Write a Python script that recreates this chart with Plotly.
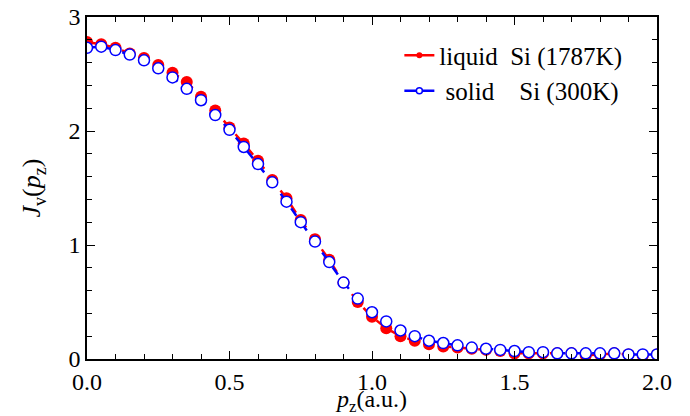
import plotly.graph_objects as go

pz = [round(i * 0.05, 2) for i in range(41)]

liquid = [2.78, 2.76, 2.73, 2.68, 2.64, 2.58, 2.51, 2.43, 2.30, 2.18,
          2.03, 1.89, 1.74, 1.57, 1.41, 1.22, 1.05, 0.87, 0.67, 0.50,
          0.37, 0.27, 0.20, 0.16, 0.13, 0.11, 0.10, 0.09, 0.08, 0.07,
          0.05, 0.05, 0.05, 0.05, 0.05, 0.03, 0.04, 0.05, 0.04, 0.03, 0.04]

solid = [2.73, 2.74, 2.71, 2.67, 2.62, 2.55, 2.47, 2.37, 2.27, 2.14,
         2.01, 1.86, 1.71, 1.55, 1.38, 1.20, 1.03, 0.85, 0.67, 0.53,
         0.41, 0.33, 0.25, 0.20, 0.16, 0.14, 0.12, 0.10, 0.09, 0.08,
         0.07, 0.06, 0.06, 0.05, 0.05, 0.05, 0.05, 0.05, 0.04, 0.04, 0.04]

names = ["liquid\u00a0\u00a0Si (1787K)", "\u00a0solid\u00a0\u00a0\u00a0\u00a0Si (300K)"]

FONT = "Liberation Serif"

fig = go.Figure()
fig.add_trace(go.Scatter(
    x=pz, y=liquid, mode="lines+markers", showlegend=False,
    line=dict(color="red", width=2.5, dash="dash"),
    marker=dict(symbol="circle", size=12, color="red", line=dict(width=0)),
))
fig.add_trace(go.Scatter(
    x=pz, y=solid, mode="lines+markers", showlegend=False,
    line=dict(color="blue", width=2.5, dash="dash"),
    marker=dict(symbol="circle", size=11, color="white", line=dict(color="blue", width=1.5)),
))
# legend entries (small markers as in the reference legend)
fig.add_trace(go.Scatter(
    x=[None], y=[None], mode="lines+markers", name=names[0],
    line=dict(color="red", width=2.5),
    marker=dict(symbol="circle", size=6, color="red"),
))
fig.add_trace(go.Scatter(
    x=[None], y=[None], mode="lines+markers", name=names[1],
    line=dict(color="blue", width=2.5),
    marker=dict(symbol="circle", size=6, color="white", line=dict(color="blue", width=1.5)),
))

axis_common = dict(
    showgrid=False, zeroline=False, showline=True, linecolor="black", linewidth=1.5,
    mirror="ticks", ticks="inside", ticklen=8, tickwidth=1.2, tickcolor="black",
    tickfont=dict(family=FONT, size=24, color="black"), ticklabeloverflow="allow",
)

fig.update_xaxes(
    range=[0, 2.0], dtick=0.5, tick0=0, tickformat=".1f",
    minor=dict(dtick=0.1, ticks="inside", ticklen=5, tickwidth=1, tickcolor="black"),
    title=dict(text="<i>p</i><sub>z</sub>(a.u.)", font=dict(family=FONT, size=24, color="black"), standoff=0),
    **axis_common,
)
fig.update_yaxes(
    range=[0, 3], dtick=1, tick0=0,
    minor=dict(dtick=0.2, ticks="inside", ticklen=5, tickwidth=1, tickcolor="black"),
    title=dict(text="<i>J</i><sub>v</sub>(<i>p</i><sub>z</sub>)", font=dict(family=FONT, size=26, color="black"), standoff=20),
    **axis_common,
)

# the page body has an 8px margin, so the figure is 8px smaller to fit the window
fig.update_layout(
    width=682, height=408,
    margin=dict(l=79, r=33, t=9, b=57, autoexpand=False),
    plot_bgcolor="white", paper_bgcolor="white",
    font=dict(family=FONT, color="black"),
    legend=dict(x=0.548, y=0.955, xanchor="left", yanchor="top",
                bgcolor="rgba(0,0,0,0)", font=dict(family=FONT, size=25, color="black"),
                itemwidth=30, tracegroupgap=0),
)

fig.write_html("out.html")
